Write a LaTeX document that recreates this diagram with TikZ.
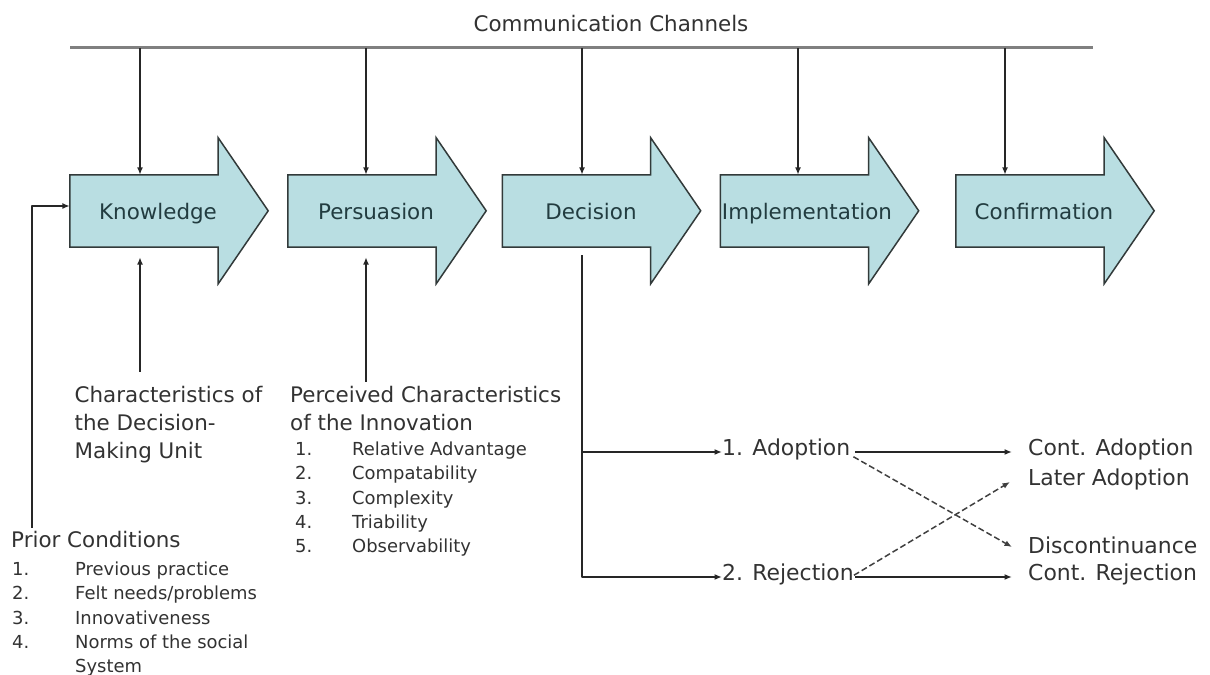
\documentclass[tikz,border=0pt]{standalone}
\usepackage{fontspec}
\setmainfont{DejaVu Sans}
\usetikzlibrary{arrows.meta}
\definecolor{stagefill}{RGB}{185,222,226}
\definecolor{stageline}{RGB}{50,58,58}
\definecolor{stageink}{RGB}{34,60,64}
\definecolor{txtgray}{RGB}{50,50,50}
\definecolor{chanline}{RGB}{128,128,128}

\begin{document}
\begin{tikzpicture}[>={Latex[length=7.5bp,width=6bp]},line join=bevel,
  stagebody/.style={minimum width=148bp,minimum height=72bp,inner sep=0pt},
  stageshape/.style={fill=stagefill,draw=stageline,line width=1.5bp,line join=miter},
  stagelbl/.style={anchor=base,inner sep=0pt,text=stageink,font=\fontsize{21.5}{26}\selectfont},
  headlbl/.style={anchor=north west,inner sep=0pt,align=left,text=txtgray,font=\fontsize{21.5}{28}\selectfont},
  listlbl/.style={anchor=north west,inner sep=0pt,align=left,text=txtgray,font=\fontsize{18}{24.5}\selectfont},
  outlbl/.style={anchor=west,inner sep=0pt,text height=1.5ex,text depth=.17ex,text=txtgray,font=\fontsize{22}{26}\selectfont},
  flow/.style={->,draw=black!85,line width=1.5bp},
  alt/.style={->,draw=black!75,line width=1.5bp,dash pattern=on 6bp off 3bp},
]
\useasboundingbox (0bp,0bp) rectangle (1210bp,675bp);
%%
\node (channels) at (611bp,643bp) [headlbl,anchor=base] {Communication Channels};
\coordinate (chl) at (70bp,627bp);
\coordinate (chr) at (1093bp,627bp);
\draw [chanline,line width=3bp] (chl) -- (chr);
\coordinate (ch1) at (140bp,627bp);
\coordinate (ch2) at (366bp,627bp);
\coordinate (ch3) at (582bp,627bp);
\coordinate (ch4) at (798bp,627bp);
\coordinate (ch5) at (1005bp,627bp);
%
% stage arrows
\node (know) at (144bp,464bp) [stagebody] {};
\draw [stageshape] (know.north west) -- (know.north east) -- ++(0,37bp) -- ++(50bp,-73bp) -- ++(-50bp,-73bp) -- (know.south east) -- (know.south west) -- cycle;
\node (knowtxt) at (158bp,455bp) [stagelbl] {Knowledge};
\node (pers) at (362bp,464bp) [stagebody] {};
\draw [stageshape] (pers.north west) -- (pers.north east) -- ++(0,37bp) -- ++(50bp,-73bp) -- ++(-50bp,-73bp) -- (pers.south east) -- (pers.south west) -- cycle;
\node (perstxt) at (376bp,455bp) [stagelbl] {Persuasion};
\node (deci) at (576.5bp,464bp) [stagebody] {};
\draw [stageshape] (deci.north west) -- (deci.north east) -- ++(0,37bp) -- ++(50bp,-73bp) -- ++(-50bp,-73bp) -- (deci.south east) -- (deci.south west) -- cycle;
\node (decitxt) at (591bp,455bp) [stagelbl] {Decision};
\node (impl) at (794.5bp,464bp) [stagebody] {};
\draw [stageshape] (impl.north west) -- (impl.north east) -- ++(0,37bp) -- ++(50bp,-73bp) -- ++(-50bp,-73bp) -- (impl.south east) -- (impl.south west) -- cycle;
\node (impltxt) at (807bp,455bp) [stagelbl] {Implementation};
\node (conf) at (1030bp,464bp) [stagebody] {};
\draw [stageshape] (conf.north west) -- (conf.north east) -- ++(0,37bp) -- ++(50bp,-73bp) -- ++(-50bp,-73bp) -- (conf.south east) -- (conf.south west) -- cycle;
\node (conftxt) at (1044bp,455bp) [stagelbl] {Confirmation};
%
\draw [flow] (ch1) -- (ch1 |- know.north);
\draw [flow] (ch2) -- (ch2 |- pers.north);
\draw [flow] (ch3) -- (ch3 |- deci.north);
\draw [flow] (ch4) -- (ch4 |- impl.north);
\draw [flow] (ch5) -- (ch5 |- conf.north);
%
% inputs below the stages
\node (dmu) at (74.5bp,289bp) [headlbl] {Characteristics of\\the Decision-\\Making Unit};
\node (perc) at (290bp,289bp) [headlbl] {Perceived Characteristics\\of the Innovation};
\node (traits) at (295bp,233.5bp) [listlbl] {\makebox[57bp][l]{1.}Relative Advantage\\\makebox[57bp][l]{2.}Compatability\\\makebox[57bp][l]{3.}Complexity\\\makebox[57bp][l]{4.}Triability\\\makebox[57bp][l]{5.}Observability};
\node (prior) at (11bp,144bp) [headlbl] {Prior Conditions};
\node (priorlist) at (12bp,113.5bp) [listlbl] {\makebox[63bp][l]{1.}Previous practice\\\makebox[63bp][l]{2.}Felt needs/problems\\\makebox[63bp][l]{3.}Innovativeness\\\makebox[63bp][l]{4.}Norms of the social\\\hspace*{63bp}System};
\draw [flow] ([yshift=14bp]ch1 |- dmu.north) -- ([yshift=-10bp]ch1 |- know.south);
\draw [flow] ([yshift=4bp]ch2 |- perc.north) -- ([yshift=-10bp]ch2 |- pers.south);
\draw [flow] ([shift={(21bp,3bp)}]prior.north west) |- ([yshift=5bp]know.west);
%
% outcomes of the decision
\node (adopt) at (722bp,223bp) [outlbl] {1. Adoption};
\node (reject) at (722bp,98bp) [outlbl] {2. Rejection};
\node (contadopt) at (1028bp,223bp) [outlbl] {Cont. Adoption};
\node (later) at (1028bp,193bp) [outlbl] {Later Adoption};
\node (discont) at (1028bp,125bp) [outlbl] {Discontinuance};
\node (contreject) at (1028bp,98bp) [outlbl] {Cont. Rejection};
\draw [flow] ([yshift=-8bp]ch3 |- deci.south) -- (ch3 |- reject.west) -- (reject.west);
\draw [flow] (ch3 |- adopt.west) -- (adopt.west);
\draw [flow] ([xshift=5bp]adopt.east) -- ([xshift=-16bp]contadopt.west);
\draw [flow] ([xshift=1bp]reject.east) -- ([xshift=-16bp]contreject.west);
\draw [alt] ([xshift=3bp]adopt.south east) -- ([xshift=-16bp,yshift=3bp]discont.west);
\draw [alt] ([yshift=-3bp]reject.north east) -- ([xshift=-18bp]later.west);
%
\end{tikzpicture}
\end{document}
